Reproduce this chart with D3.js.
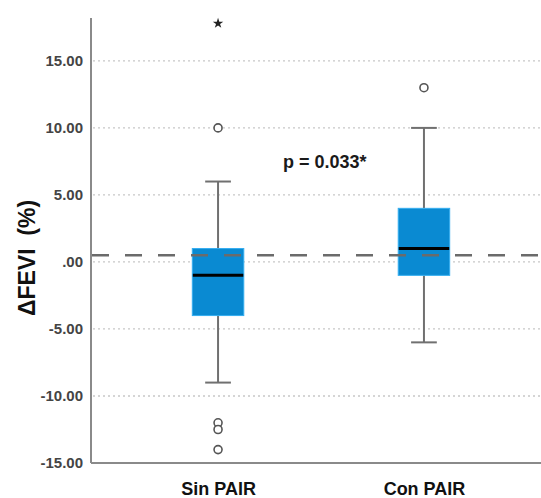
<!DOCTYPE html>
<html>
<head>
<meta charset="utf-8">
<script src="https://cdn.jsdelivr.net/npm/d3@7"></script>
<style>
  body { margin: 0; background: #fff; }
  svg { display: block; }
  text { font-family: "Liberation Sans", Arial, Helvetica, sans-serif; }
</style>
</head>
<body>
<svg id="chart" width="541" height="498"></svg>
<script>
// ---- data ----
const categories = ["Sin PAIR", "Con PAIR"];
const q1 = [-4, -1];
const medians = [-1, 1];
const q3 = [1, 4];
const whiskerLow = [-9, -6];
const whiskerHigh = [6, 10];
const outliers = [[10, -12, -12.5, -14], [13]];
const extremes = [[17.8], []];
const refValue = 0.5;
const yTicks = [-15, -10, -5, 0, 5, 10, 15];
const gridTicks = [-10, -5, 0, 5, 10, 15];
const yLabel = "ΔFEVI  (%)";
const annotation = "p = 0.033*";

// ---- layout ----
const svg = d3.select("#chart");
const mLeft = 91, mRight = 551, mTop = 18, mBottom = 463;

const y = d3.scaleLinear().domain([-15, 18.2]).range([mBottom, mTop]);
const x = d3.scalePoint().domain(categories).range([mLeft, mRight]).padding(0.617);
const boxW = x.step() * 0.25;
const capW = x.step() * 0.125;

const fmt = v => v === 0 ? ".00" : d3.format(".2f")(v).replace("−", "-");

// gridlines
svg.append("g").selectAll("line").data(gridTicks).join("line")
  .attr("x1", mLeft + 2).attr("x2", 541)
  .attr("y1", d => y(d)).attr("y2", d => y(d))
  .attr("stroke", "#c8c8c8").attr("stroke-width", 1.3)
  .attr("stroke-dasharray", "2,3");

// y axis
const yAxis = d3.axisLeft(y).tickValues(yTicks).tickFormat(fmt).tickSize(0).tickPadding(8);
const gy = svg.append("g").attr("transform", `translate(${mLeft},0)`).call(yAxis);
gy.select(".domain").remove();
gy.selectAll("text").attr("font-size", 15).attr("font-weight", "bold").attr("fill", "#444");

svg.append("line").attr("x1", mLeft).attr("x2", mLeft).attr("y1", mTop).attr("y2", mBottom)
  .attr("stroke", "#8a8a8a").attr("stroke-width", 2);
svg.append("line").attr("x1", mLeft).attr("x2", 541).attr("y1", mBottom).attr("y2", mBottom)
  .attr("stroke", "#8a8a8a").attr("stroke-width", 2);

// x labels
const xAxis = d3.axisBottom(x).tickSize(0).tickPadding(0);
const gx = svg.append("g").attr("transform", `translate(0,${mBottom})`).call(xAxis);
gx.select(".domain").remove();
gx.selectAll("text").attr("dy", null).attr("y", 32).attr("font-size", 18)
  .attr("font-weight", "bold").attr("fill", "#111");

// y label
svg.append("text").attr("transform", `translate(35,258) rotate(-90)`)
  .attr("text-anchor", "middle").attr("font-size", 23).attr("font-weight", "bold")
  .style("white-space", "pre")
  .attr("fill", "#111").text(yLabel);

// boxes
const g = svg.append("g");
categories.forEach((c, i) => {
  const cx = x(c);
  const gg = g.append("g");
  gg.append("line").attr("x1", cx).attr("x2", cx).attr("y1", y(q3[i])).attr("y2", y(whiskerHigh[i]))
    .attr("stroke", "#707070").attr("stroke-width", 2);
  gg.append("line").attr("x1", cx).attr("x2", cx).attr("y1", y(q1[i])).attr("y2", y(whiskerLow[i]))
    .attr("stroke", "#707070").attr("stroke-width", 2);
  [whiskerHigh[i], whiskerLow[i]].forEach(v => {
    gg.append("line").attr("x1", cx - capW / 2).attr("x2", cx + capW / 2)
      .attr("y1", y(v)).attr("y2", y(v)).attr("stroke", "#707070").attr("stroke-width", 2);
  });
  gg.append("rect").attr("x", cx - boxW / 2).attr("width", boxW)
    .attr("y", y(q3[i])).attr("height", y(q1[i]) - y(q3[i]))
    .attr("fill", "#0a8ad2").attr("stroke", "#34aef0").attr("stroke-width", 1);
  gg.append("line").attr("x1", cx - boxW / 2 + 0.5).attr("x2", cx + boxW / 2 - 0.5)
    .attr("y1", y(medians[i])).attr("y2", y(medians[i]))
    .attr("stroke", "#000").attr("stroke-width", 3);
  gg.selectAll("circle").data(outliers[i]).join("circle")
    .attr("cx", cx).attr("cy", d => y(d)).attr("r", 4)
    .attr("fill", "#fff").attr("stroke", "#555").attr("stroke-width", 1.6);
  gg.selectAll("path.ext").data(extremes[i]).join("path").attr("class", "ext")
    .attr("transform", d => `translate(${cx},${y(d)})`)
    .attr("d", d3.symbol(d3.symbolStar, 34))
    .attr("fill", "#222");
});

// reference dashed line
svg.append("line").attr("x1", mLeft + 1).attr("x2", 541)
  .attr("y1", y(refValue)).attr("y2", y(refValue))
  .attr("stroke", "#6b6b6b").attr("stroke-width", 2.6)
  .attr("stroke-dasharray", "17,16");

// annotation
svg.append("text").attr("x", 283).attr("y", 168).attr("font-size", 18).attr("font-weight", "bold")
  .attr("fill", "#1a1a1a").text(annotation);
</script>
</body>
</html>
